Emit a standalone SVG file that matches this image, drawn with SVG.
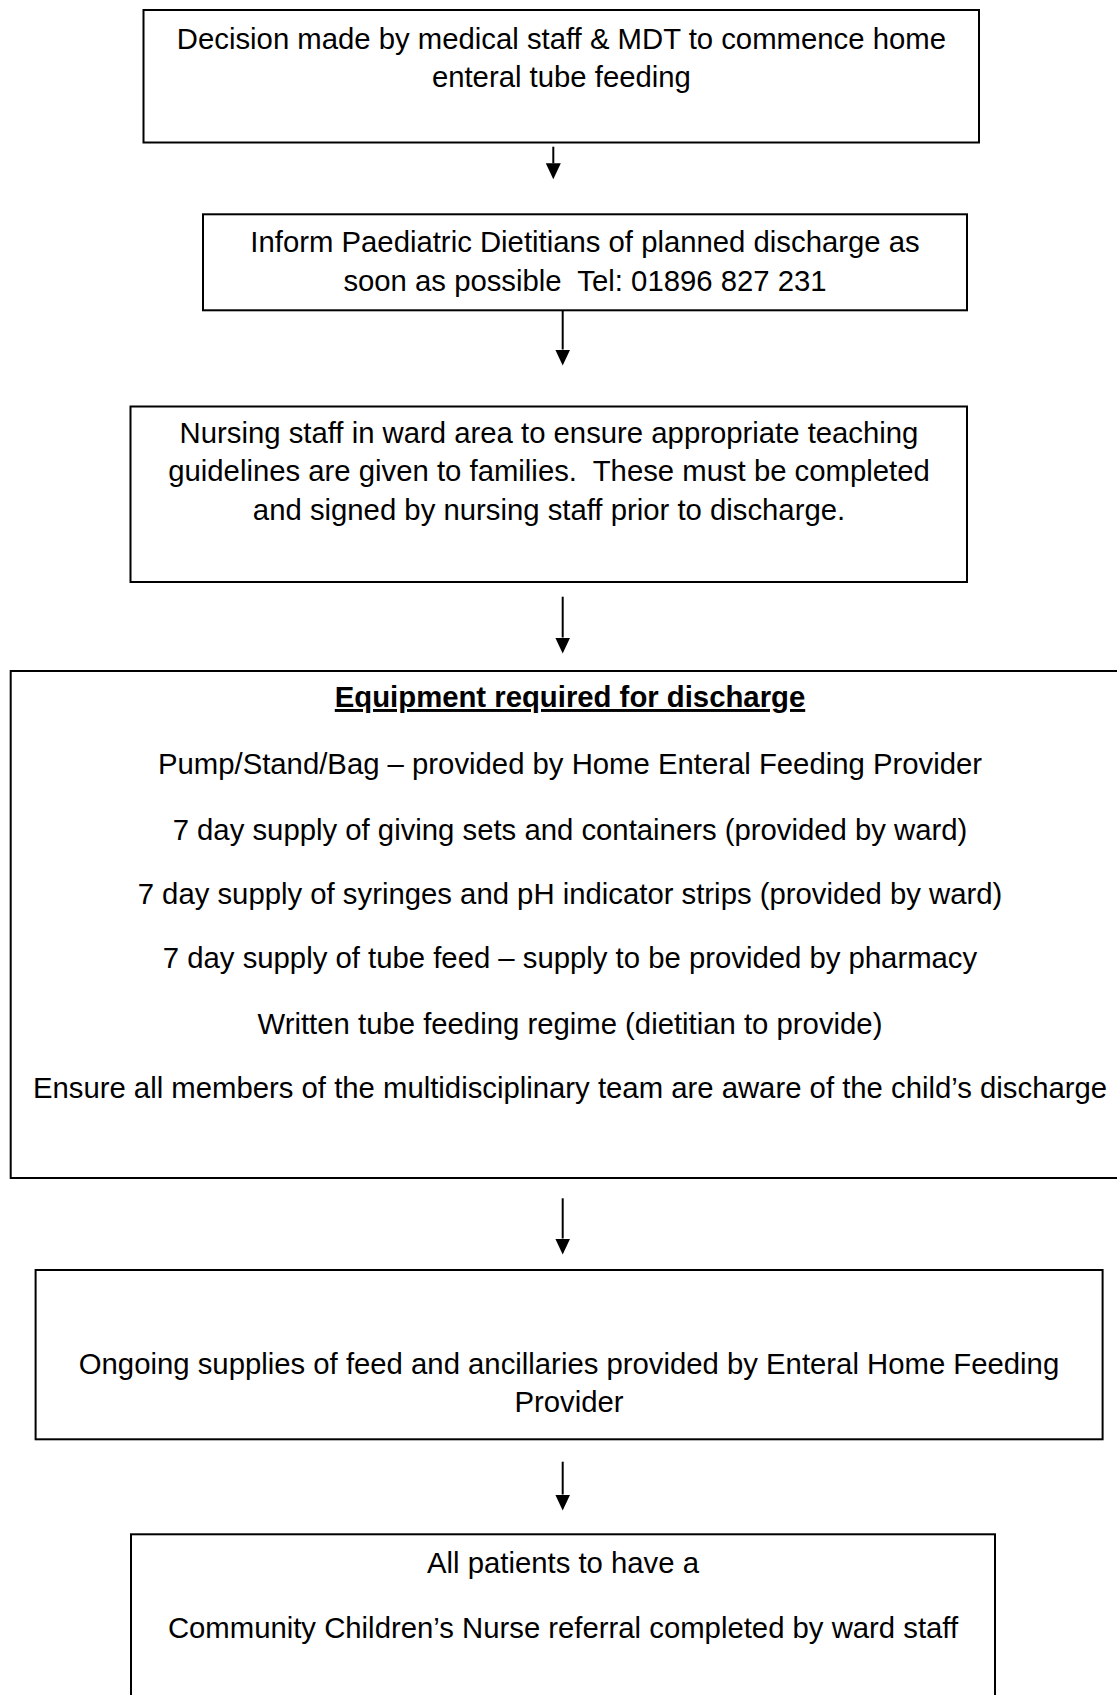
<svg xmlns="http://www.w3.org/2000/svg" width="1117" height="1695" viewBox="0 0 1117 1695">
  <defs>
    <style>
      .box { fill: #ffffff; stroke: #000000; stroke-width: 2; }
      .t { font-family: "Liberation Sans", Arial, sans-serif; font-size: 29.3px; fill: #000000; text-anchor: middle; }
      .h { font-weight: bold; text-decoration: underline; }
      .conn { stroke: #000000; stroke-width: 2; fill: none; marker-end: url(#ah); }
    </style>
    <marker id="ah" markerUnits="userSpaceOnUse" markerWidth="17" markerHeight="16" refX="0" refY="7.5" orient="auto">
      <path d="M0,0 L16,7.5 L0,15 Z" fill="#000000"/>
    </marker>
  </defs>
  <rect width="1117" height="1695" fill="#ffffff"/>

  <g id="node-decision">
    <rect class="box" x="143.5" y="10" width="835.5" height="132.5"/>
    <text class="t" x="561.4" y="49">Decision made by medical staff &amp; MDT to commence home</text>
    <text class="t" x="561.4" y="87">enteral tube feeding</text>
  </g>

  <g id="node-inform">
    <rect class="box" x="203" y="214.3" width="764" height="96"/>
    <text class="t" x="585" y="252">Inform Paediatric Dietitians of planned discharge as</text>
    <text class="t" x="585" y="290.7" xml:space="preserve">soon as possible  Tel: 01896 827 231</text>
  </g>

  <g id="node-nursing">
    <rect class="box" x="130.5" y="406.5" width="836.5" height="175.5"/>
    <text class="t" x="549" y="443">Nursing staff in ward area to ensure appropriate teaching</text>
    <text class="t" x="549" y="481" xml:space="preserve">guidelines are given to families.  These must be completed</text>
    <text class="t" x="549" y="519.5">and signed by nursing staff prior to discharge.</text>
  </g>

  <g id="node-equipment">
    <rect class="box" x="10.7" y="671" width="1118" height="507"/>
    <text class="t h" x="570" y="707">Equipment required for discharge</text>
    <text class="t" x="570" y="774">Pump/Stand/Bag – provided by Home Enteral Feeding Provider</text>
    <text class="t" x="570" y="840">7 day supply of giving sets and containers (provided by ward)</text>
    <text class="t" x="570" y="904">7 day supply of syringes and pH indicator strips (provided by ward)</text>
    <text class="t" x="570" y="968">7 day supply of tube feed – supply to be provided by pharmacy</text>
    <text class="t" x="570" y="1034">Written tube feeding regime (dietitian to provide)</text>
    <text class="t" x="570" y="1098">Ensure all members of the multidisciplinary team are aware of the child’s discharge</text>
  </g>

  <g id="node-ongoing">
    <rect class="box" x="35.6" y="1270" width="1067" height="169.3"/>
    <text class="t" x="569" y="1374">Ongoing supplies of feed and ancillaries provided by Enteral Home Feeding</text>
    <text class="t" x="569" y="1412">Provider</text>
  </g>

  <g id="node-community">
    <rect class="box" x="131" y="1534.3" width="864" height="200"/>
    <text class="t" x="563" y="1573">All patients to have a</text>
    <text class="t" x="563" y="1638">Community Children’s Nurse referral completed by ward staff</text>
  </g>

  <g id="connectors">
    <line class="conn" x1="553.3" y1="146.7" x2="553.3" y2="163.3"/>
    <line class="conn" x1="562.7" y1="310.7" x2="562.7" y2="349.5"/>
    <line class="conn" x1="562.7" y1="596.7" x2="562.7" y2="637.5"/>
    <line class="conn" x1="562.7" y1="1198.3" x2="562.7" y2="1238.5"/>
    <line class="conn" x1="562.7" y1="1461.7" x2="562.7" y2="1494.5"/>
  </g>
</svg>
